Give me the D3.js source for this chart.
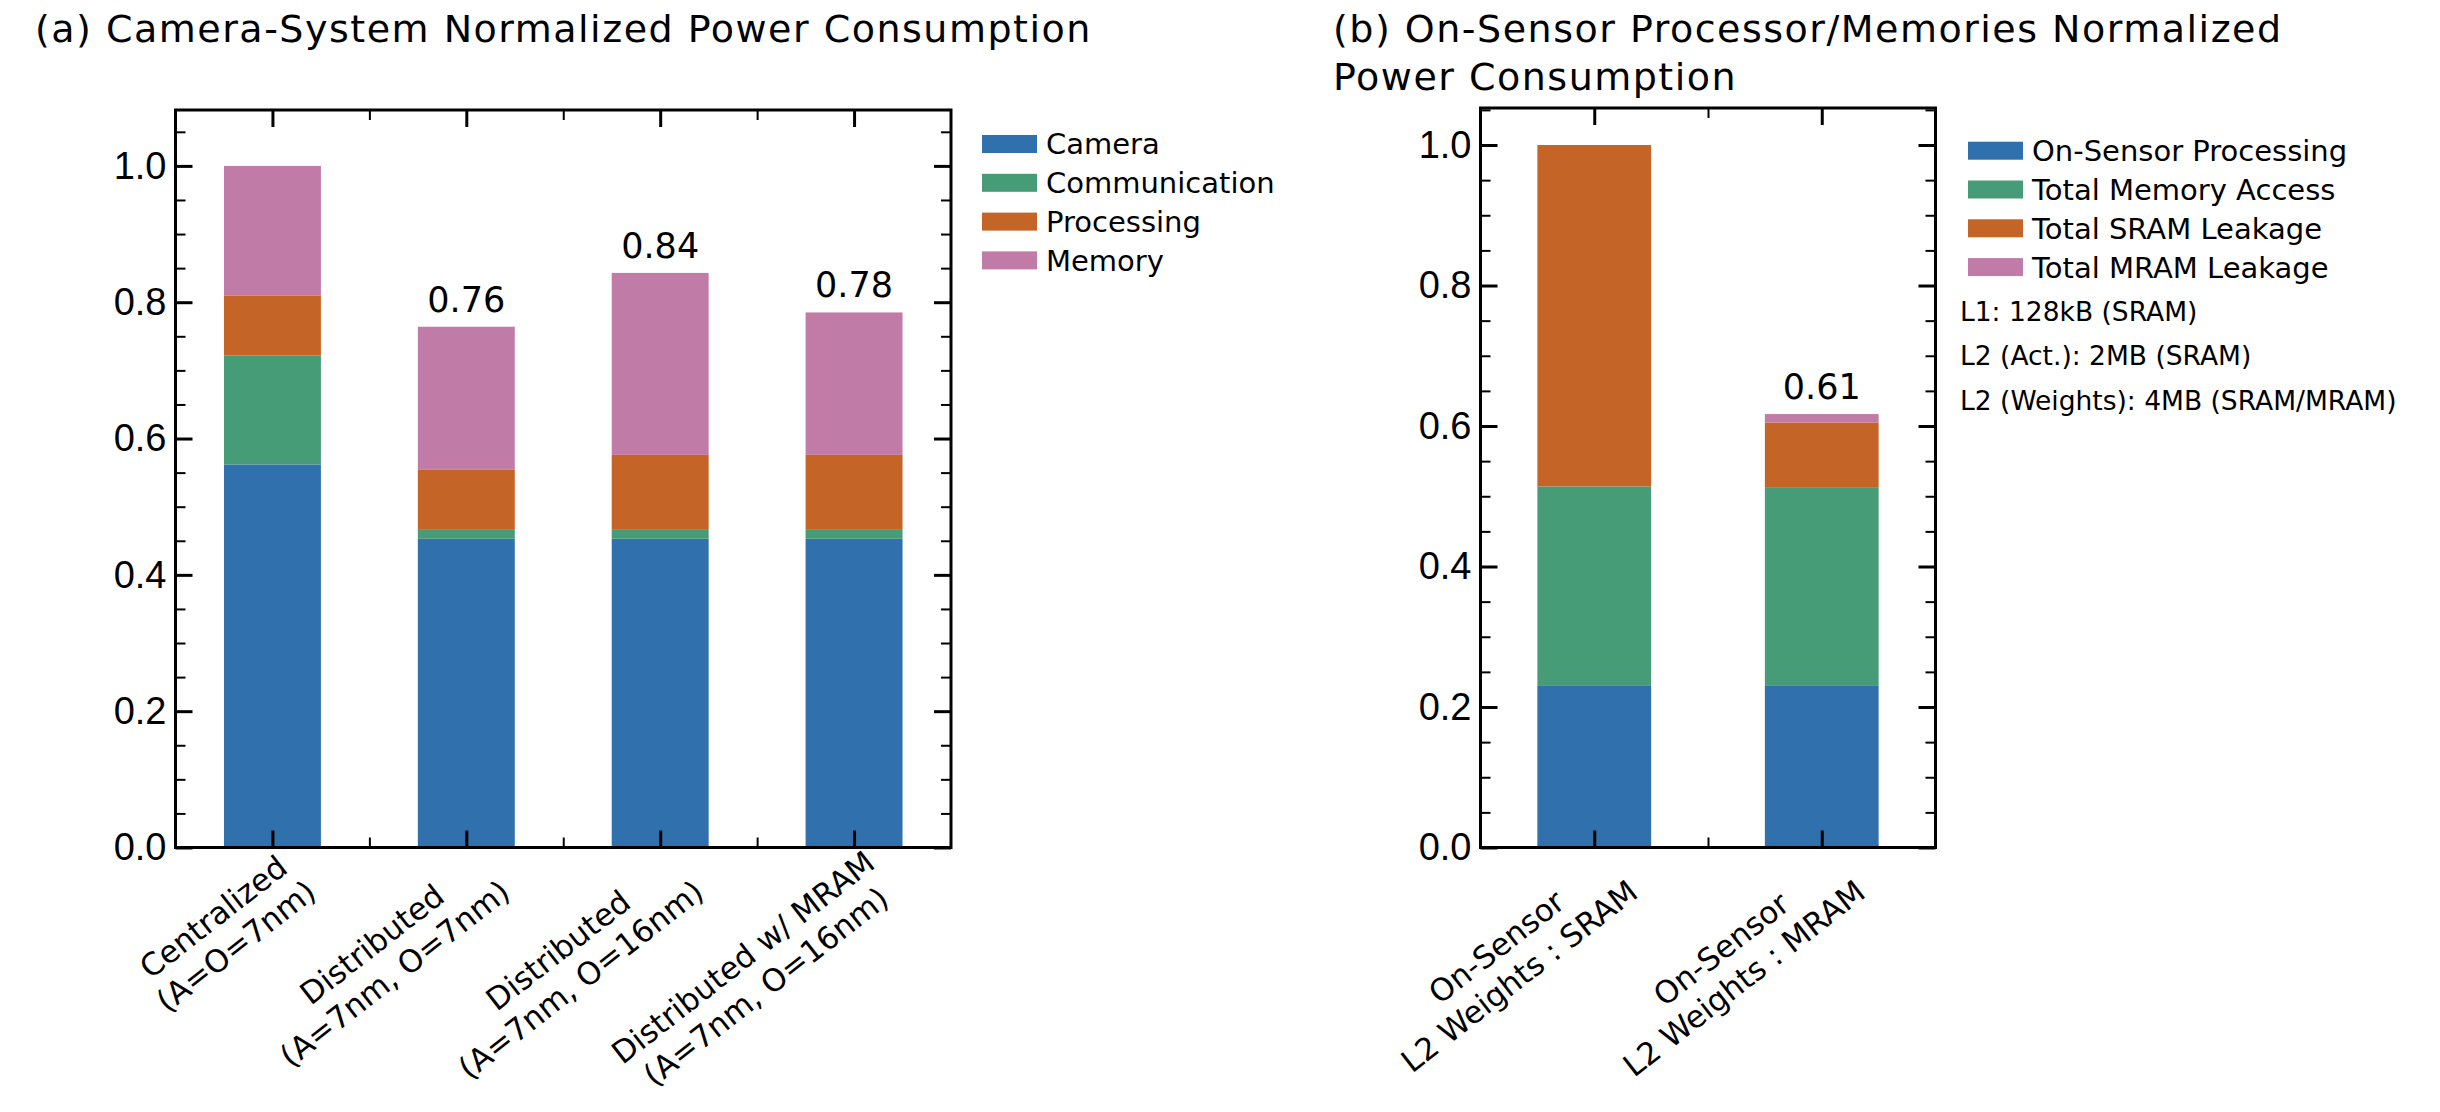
<!DOCTYPE html>
<html lang="en">
<head>
<meta charset="UTF-8">
<title>Normalized Power Consumption</title>
<script src="https://d3js.org/d3.v7.min.js"></script>
<style>
  * { margin: 0; padding: 0; box-sizing: border-box; }
  body { background: #ffffff; width: 2440px; height: 1112px; overflow: hidden; }
  .title, .legend text, .xlab, .vlab { font-family: 'DejaVu Sans', sans-serif; fill: #000; }
  .ynum { font-family: 'Liberation Sans', Arial, sans-serif; font-size: 38px; fill: #000; }
  .major line { stroke: #000; stroke-width: 3px; }
  .minor line { stroke: #000; stroke-width: 2px; }
  .domain { display: none; }
</style>
</head>
<body>
<div id="chart"></div>
<script>
// ---- data: panel (a)
const catsA = [
  ["Centralized", "(A=O=7nm)"],
  ["Distributed", "(A=7nm, O=7nm)"],
  ["Distributed", "(A=7nm, O=16nm)"],
  ["Distributed w/ MRAM", "(A=7nm, O=16nm)"]
];
const keysA = ["Camera", "Communication", "Processing", "Memory"];
const cameraA = [0.562, 0.453, 0.453, 0.453];
const commA   = [0.160, 0.013, 0.013, 0.013];
const procA   = [0.088, 0.088, 0.110, 0.110];
const memA    = [0.190, 0.210, 0.267, 0.209];
const totalLabelsA = ["", "0.76", "0.84", "0.78"];

// ---- data: panel (b)
const catsB = [
  ["On-Sensor", "L2 Weights : SRAM"],
  ["On-Sensor", "L2 Weights : MRAM"]
];
const keysB = ["On-Sensor Processing", "Total Memory Access", "Total SRAM Leakage", "Total MRAM Leakage"];
const onSensorB = [0.230, 0.230];
const accessB   = [0.284, 0.283];
const sramB     = [0.486, 0.092];
const mramB     = [0.000, 0.012];
const totalLabelsB = ["", "0.61"];
const notesB = ["L1: 128kB (SRAM)", "L2 (Act.): 2MB (SRAM)", "L2 (Weights): 4MB (SRAM/MRAM)"];

// ---- ticks / colours
const yMajor = [0, 0.2, 0.4, 0.6, 0.8, 1.0];
const yMinor = [0.05, 0.1, 0.15, 0.25, 0.3, 0.35, 0.45, 0.5, 0.55, 0.65, 0.7, 0.75, 0.85, 0.9, 0.95, 1.05];
const colors = ["#3070ad", "#469c76", "#c56427", "#c07ca6"];

const svg = d3.select("#chart").append("svg")
  .attr("width", 2440).attr("height", 1112);

function drawPanel(p) {
  const x = d3.scaleBand()
    .domain(d3.range(p.cats.length))
    .range([p.left, p.right])
    .paddingInner(0.5).paddingOuter(0.25);
  const y = d3.scaleLinear().domain([0, p.ymax]).range([p.bottom, p.top]);
  const w = p.right - p.left;
  const h = p.bottom - p.top;

  // title
  const t = svg.append("text").attr("class", "title")
    .attr("x", p.titleX).attr("y", 42)
    .style("font-size", "38px").style("letter-spacing", "1.5px");
  p.title.forEach((line, i) => t.append("tspan").attr("x", p.titleX).attr("y", 42 + i * 48).text(line));

  // stacked bars
  const rows = p.cats.map((c, i) => {
    const r = { i };
    p.keys.forEach((k, j) => r[k] = p.values[j][i]);
    return r;
  });
  const stacked = d3.stack().keys(p.keys)(rows);
  svg.append("g").selectAll("g")
    .data(stacked).join("g")
    .attr("fill", (d, j) => colors[j])
    .selectAll("rect")
    .data(d => d).join("rect")
    .attr("x", d => x(d.data.i))
    .attr("width", x.bandwidth())
    .attr("y", d => y(d[1]))
    .attr("height", d => y(d[0]) - y(d[1]));

  // total labels
  const tops = stacked[stacked.length - 1];
  svg.append("g").selectAll("text")
    .data(p.totals).join("text")
    .attr("class", "vlab")
    .style("font-size", "35px")
    .attr("text-anchor", "middle")
    .attr("x", (d, i) => x(i) + x.bandwidth() / 2)
    .attr("y", (d, i) => y(tops[i][1]) - 15)
    .text(d => d);

  // y axes (inward ticks, both sides)
  svg.append("g").attr("class", "major")
    .attr("transform", `translate(${p.left},0)`)
    .call(d3.axisLeft(y).tickValues(yMajor).tickSize(-17).tickPadding(9).tickFormat(d3.format(".1f")))
    .selectAll("text").attr("class", "ynum");
  svg.append("g").attr("class", "minor")
    .attr("transform", `translate(${p.left},0)`)
    .call(d3.axisLeft(y).tickValues(yMinor.filter(v => v < p.ymax)).tickSize(-10).tickFormat(""));
  svg.append("g").attr("class", "major")
    .attr("transform", `translate(${p.right},0)`)
    .call(d3.axisRight(y).tickValues(yMajor).tickSize(-17).tickFormat(""));
  svg.append("g").attr("class", "minor")
    .attr("transform", `translate(${p.right},0)`)
    .call(d3.axisRight(y).tickValues(yMinor.filter(v => v < p.ymax)).tickSize(-10).tickFormat(""));

  // x axes: major at bar centres, minor between bars
  const xc = d3.scaleLinear().domain([-0.5, p.cats.length - 0.5]).range([p.left, p.right]);
  const xMajor = d3.range(p.cats.length);
  const xMinor = d3.range(p.cats.length - 1).map(i => i + 0.5);
  [["axisBottom", p.bottom], ["axisTop", p.top]].forEach(([fn, yy]) => {
    svg.append("g").attr("class", "major")
      .attr("transform", `translate(0,${yy})`)
      .call(d3[fn](xc).tickValues(xMajor).tickSize(-17).tickFormat(""));
    svg.append("g").attr("class", "minor")
      .attr("transform", `translate(0,${yy})`)
      .call(d3[fn](xc).tickValues(xMinor).tickSize(-10).tickFormat(""));
  });

  // frame
  svg.append("rect")
    .attr("x", p.left).attr("y", p.top).attr("width", w).attr("height", h)
    .attr("fill", "none").attr("stroke", "#000").attr("stroke-width", 3);

  // rotated two-line category labels (block's top-right corner at the tick)
  const fs = 31, lh = 37;
  p.cats.forEach((lines, i) => {
    const g = svg.append("g")
      .attr("transform", `translate(${xc(i) + 8},${p.bottom}) rotate(-38)`);
    const texts = lines.map((s, k) => g.append("text").attr("class", "xlab")
      .style("font-size", fs + "px")
      .attr("text-anchor", "middle")
      .attr("y", fs * 0.78 + k * lh)
      .text(s));
    const maxW = d3.max(texts, t => t.node().getComputedTextLength());
    texts.forEach(t => t.attr("x", -maxW / 2));
  });

  // legend
  const lg = svg.append("g").attr("class", "legend");
  p.keys.forEach((k, j) => {
    const cy = p.legY + j * 38.8;
    lg.append("rect").attr("x", p.legX).attr("y", cy - 9).attr("width", 55).attr("height", 18)
      .attr("fill", colors[j]);
    lg.append("text").attr("x", p.legX + 64).attr("y", cy).attr("dy", "0.36em")
      .style("font-size", "29px").text(k);
  });
  (p.notes || []).forEach((s, j) => {
    lg.append("text").attr("x", p.legX - 8).attr("y", p.legY + 161 + j * 44.2).attr("dy", "0.36em")
      .style("font-size", "26.5px").text(s);
  });
}

drawPanel({
  left: 175.5, right: 951, top: 110, bottom: 847.5, ymax: 1.082,
  cats: catsA, keys: keysA, values: [cameraA, commA, procA, memA], totals: totalLabelsA,
  title: ["(a) Camera-System Normalized Power Consumption"], titleX: 35,
  legX: 982, legY: 144
});

drawPanel({
  left: 1480.5, right: 1935.5, top: 108, bottom: 847.5, ymax: 1.0527,
  cats: catsB, keys: keysB, values: [onSensorB, accessB, sramB, mramB], totals: totalLabelsB,
  title: ["(b) On-Sensor Processor/Memories Normalized", "Power Consumption"], titleX: 1333,
  legX: 1968, legY: 150.7, notes: notesB
});
</script>
</body>
</html>
